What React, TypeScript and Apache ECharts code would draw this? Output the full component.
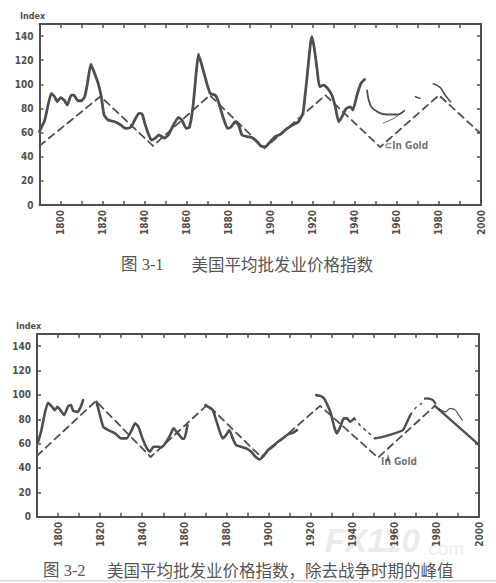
import React, { useEffect, useRef } from 'react';
import * as echarts from 'echarts';

// ---------- axes ----------
const X_MIN = 1790;
const X_MAX = 2000;
const xLabelYears = [1800, 1820, 1840, 1860, 1880, 1900, 1920, 1940, 1960, 1980, 2000];
const yLabelValues = [0, 20, 40, 60, 80, 100, 120, 140];

// ---------- 图 3-1 ----------
const c1Years = [1790, 1792.5, 1795.6, 1797.2, 1798.5, 1800, 1801.7, 1803.2, 1805.1, 1806.3, 1808.3, 1809.9, 1811.5, 1812.8, 1814.4, 1816, 1817.9, 1819.4, 1820.7, 1822.6, 1825.8, 1828.7, 1830.9, 1833.4, 1835.3, 1837.2, 1838.8, 1840.1, 1841.7, 1843.2, 1844.9, 1846.8, 1849.3, 1851.3, 1853.7, 1856.1, 1857.7, 1859.8, 1861.3, 1863, 1864.5, 1865.6, 1867.2, 1869.6, 1871.2, 1873.6, 1875.1, 1877.5, 1879.4, 1881, 1883.1, 1884.7, 1886.3, 1888.7, 1891, 1893.4, 1895.3, 1897.4, 1899.8, 1902.1, 1904.5, 1907.5, 1910.9, 1913.2, 1915.3, 1917.2, 1918.8, 1919.6, 1920.7, 1922, 1923.2, 1925.1, 1927, 1929.1, 1930.7, 1932.3, 1933.9, 1935.9, 1937.9, 1939.1, 1941, 1942.9, 1944.6];
const c1Values = [61, 70.4, 92.5, 89.7, 85.6, 89, 87, 82.8, 91, 91, 86.4, 86.4, 89.7, 100.8, 116.8, 110, 100.8, 89.7, 74.6, 70.4, 69, 66.3, 63.5, 64.4, 70.4, 76, 75.4, 67.7, 59.4, 53.8, 55.2, 58, 55.5, 58, 66.3, 72.7, 70.4, 63.5, 64.4, 81.4, 109, 125, 116, 100.8, 92.5, 91, 85.6, 71.8, 63.5, 64.4, 69, 66.3, 58, 56.6, 56, 52.5, 48.9, 48.3, 52.5, 56.6, 58.5, 63, 66.8, 69, 76, 105, 132.6, 139.5, 130, 113, 98, 99.4, 96.7, 91, 81.4, 69, 73.2, 80, 81.4, 78.7, 91, 100.8, 104];
const c1ArcYears = [1945.8, 1946.6, 1948, 1951, 1955, 1960, 1963.5];
const c1ArcValues = [95, 87, 81, 77, 75, 75, 78];
const c1GoldYears = [1953.5, 1957, 1960, 1964];
const c1GoldValues = [68, 70.5, 73.5, 79];
const c1DashYears = [1968.8, 1971];
const c1DashValues = [89.7, 88.4];
const c1LateYears = [1977.3, 1980.5, 1983, 1985.5];
const c1LateValues = [100.5, 97.5, 91, 85.5];
const c1TrendYears = [1790, 1819, 1844, 1871, 1897, 1926, 1952, 1980, 2000];
const c1TrendValues = [49, 90, 49, 91, 47, 91, 48, 91, 59];

// ---------- 图 3-2 ----------
const c2aYears = [1790.5, 1792.1, 1793.7, 1795.2, 1797.2, 1798.4, 1799.7, 1801.3, 1802.9, 1804.8, 1806.1, 1807.2, 1809.3, 1810.8, 1811.9];
const c2aValues = [61.5, 71, 84.8, 93.5, 90.2, 87.5, 90.2, 87, 83.4, 90.8, 91.6, 87, 86.1, 90.2, 95.7];
const c2bYears = [1818.3, 1819.9, 1821.5, 1823.9, 1827, 1829.9, 1832.6, 1835, 1836.6, 1838.2, 1840.1, 1842.2, 1843.7, 1845.3, 1847.4, 1849.3, 1850.9, 1853.3, 1854.9, 1856.9, 1858.9, 1860, 1861.5];
const c2bValues = [94.3, 83.4, 73.8, 71.1, 68.4, 64.3, 64.3, 71.1, 76.6, 73.8, 64.3, 56.1, 53.3, 57.4, 57.4, 57, 60.2, 67, 72.5, 68.4, 64.3, 64, 75];
const c2cYears = [1870, 1873.5, 1875.1, 1876.6, 1878.2, 1879.8, 1881.4, 1883, 1884.6, 1887, 1889.4, 1891.8, 1893.8, 1895.7, 1897.6, 1899.7, 1902.1, 1904.5, 1906.8, 1909.2, 1911.6, 1913.5];
const c2cValues = [91.6, 87.5, 79.3, 71.1, 64.3, 67, 71.1, 64.3, 58.8, 57.4, 56.1, 53.3, 49.2, 47.1, 49.8, 54.7, 58, 61.5, 64.3, 67.6, 68.9, 71.1];
const c2dYears = [1922.7, 1924.8, 1926.4, 1928, 1929.6, 1931.2, 1932.5, 1934.1, 1935.7, 1937.3, 1938.8, 1940.7];
const c2dValues = [99.8, 99, 97.1, 91.6, 84.8, 73.8, 68.4, 73.8, 80.7, 80.7, 77.9, 80.7];
const c2eYears = [1940.7, 1944, 1946.4, 1950.5];
const c2eValues = [80.7, 74, 70.5, 64.3];
const c2fYears = [1950.5, 1954.3, 1959.9, 1963.9, 1965.5, 1967.5];
const c2fValues = [64.3, 65.6, 68.4, 71.1, 76.6, 84];
const c2gYears = [1967.5, 1970.3, 1972.7, 1974.4];
const c2gValues = [84, 90.2, 93, 97.1];
const c2hYears = [1974.4, 1977.6, 1979.3];
const c2hValues = [97.1, 96.3, 93];
const c2iYears = [1981, 1984, 1986.4, 1988.8, 1990.4, 1992];
const c2iValues = [88.9, 86.1, 88.9, 87.5, 83.4, 79.3];
const c2TrendYears = [1790, 1818, 1844, 1871, 1896.5, 1924.5, 1952, 1979];
const c2TrendValues = [50, 95, 49, 92, 49, 91, 48.5, 91];
const c2TailYears = [1979, 2000];
const c2TailValues = [91, 59];

// annotations (data coordinates)
const c1GoldLabelAt = [1964.5, 49];
const c2GoldLabelAt = [1962, 45];
const c2GoldArrowAt = [1956.8, 51.5];

const INK = '#4f4f4f';
const LABEL_FONT = '"Liberation Sans Narrow", "DejaVu Sans Condensed", "Liberation Sans", sans-serif';
const CJK_FONT = '"Liberation Serif", "Noto Sans CJK SC", serif';

const pairs = (xs: number[], ys: number[]) => xs.map((x, i) => [x, ys[i]]);

function lineSeries(grid: number, xs: number[], ys: number[], o: any = {}) {
  return {
    type: 'line',
    xAxisIndex: grid * 2,
    yAxisIndex: grid * 2,
    data: pairs(xs, ys),
    symbol: 'none',
    smooth: o.smooth ?? 0.15,
    silent: true,
    z: o.z ?? 3,
    lineStyle: {
      color: o.color ?? INK,
      width: o.width ?? 2.6,
      type: o.type ?? 'solid',
      cap: 'round',
      join: 'round',
    },
  };
}

function labelSeries(grid: number, at: number[], text: string, extra: any = {}) {
  return {
    type: 'scatter',
    xAxisIndex: grid * 2,
    yAxisIndex: grid * 2,
    data: [at],
    symbolSize: 0,
    silent: true,
    label: {
      show: true,
      position: 'inside',
      formatter: text,
      color: INK,
      fontSize: 10,
      fontWeight: 'bold',
      fontFamily: '"DejaVu Sans Condensed", "Liberation Sans", sans-serif',
      ...extra,
    },
  };
}

function axesFor(grid: number) {
  const axisLine = { show: true, onZero: false, lineStyle: { color: INK, width: 2 } };
  const axisTick = { show: true, inside: true, length: 4, lineStyle: { color: INK, width: 1.5 } };
  const base = { gridIndex: grid, type: 'value', axisLine, axisTick, splitLine: { show: false } };
  const x = { ...base, min: X_MIN, max: X_MAX, interval: 10 };
  const y = { ...base, min: 0, max: 150, interval: 20 };
  return {
    xAxis: [
      {
        ...x,
        position: 'bottom',
        axisLabel: {
          show: true,
          rotate: 90,
          margin: 5,
          color: INK,
          fontSize: 10,
          fontWeight: 'bold',
          fontFamily: LABEL_FONT,
          formatter: (v: number) => (xLabelYears.includes(v) ? String(v) : ''),
        },
      },
      { ...x, position: 'top', axisLabel: { show: false } },
    ],
    yAxis: [
      {
        ...y,
        position: 'left',
        axisLabel: {
          show: true,
          margin: 6,
          color: INK,
          fontSize: 10,
          fontWeight: 'bold',
          fontFamily: LABEL_FONT,
          formatter: (v: number) => (yLabelValues.includes(v) ? String(v) : ''),
        },
      },
      { ...y, position: 'right', axisLabel: { show: false } },
    ],
  };
}

export default function App() {
  const ref = useRef<HTMLDivElement>(null);

  useEffect(() => {
    document.body.style.margin = '0';
    if (!ref.current) return;
    const chart = echarts.init(ref.current, undefined, { renderer: 'svg' });

    const a0 = axesFor(0);
    const a1 = axesFor(1);
    const dash = [7, 5];

    const option: any = {
      animation: false,
      backgroundColor: '#ffffff',
      grid: [
        { left: 39.5, top: 24, width: 441.5, height: 181, containLabel: false },
        { left: 37, top: 334, width: 442, height: 182.7, containLabel: false },
      ],
      xAxis: [...a0.xAxis, ...a1.xAxis],
      yAxis: [...a0.yAxis, ...a1.yAxis],
      series: [
        // chart 1
        lineSeries(0, c1TrendYears, c1TrendValues, { width: 1.8, type: dash, smooth: 0 }),
        lineSeries(0, c1Years, c1Values, { width: 2.8 }),
        lineSeries(0, c1ArcYears, c1ArcValues, { width: 1.8, smooth: 0.4 }),
        lineSeries(0, c1GoldYears, c1GoldValues, { width: 1, type: 'dotted', smooth: 0.3 }),
        lineSeries(0, c1DashYears, c1DashValues, { width: 1.4 }),
        lineSeries(0, c1LateYears, c1LateValues, { width: 1.6, smooth: 0.4 }),
        labelSeries(0, c1GoldLabelAt, '⊂In Gold'),
        // chart 2
        lineSeries(1, c2TrendYears, c2TrendValues, { width: 1.8, type: dash, smooth: 0 }),
        lineSeries(1, c2TailYears, c2TailValues, { width: 2.4, smooth: 0 }),
        lineSeries(1, c2aYears, c2aValues, { width: 2.6 }),
        lineSeries(1, c2bYears, c2bValues, { width: 2.6 }),
        lineSeries(1, c2cYears, c2cValues, { width: 2.6 }),
        lineSeries(1, c2dYears, c2dValues, { width: 2.6 }),
        lineSeries(1, c2eYears, c2eValues, { width: 1.6, type: [2, 5] }),
        lineSeries(1, c2fYears, c2fValues, { width: 2.4 }),
        lineSeries(1, c2gYears, c2gValues, { width: 1.4, type: [2, 5] }),
        lineSeries(1, c2hYears, c2hValues, { width: 2.2, smooth: 0.4 }),
        lineSeries(1, c2iYears, c2iValues, { width: 1.2, smooth: 0.3 }),
        labelSeries(1, c2GoldLabelAt, 'In Gold'),
        {
          type: 'scatter',
          xAxisIndex: 2,
          yAxisIndex: 2,
          data: [c2GoldArrowAt],
          symbol: 'arrow',
          symbolSize: [4, 9],
          silent: true,
          itemStyle: { color: INK },
        },
      ],
      graphic: [
        {
          type: 'text', x: 360, y: 540, z: -10,
          style: { text: 'FX110', fill: '#ebebeb', fontSize: 33, fontWeight: 'bold', fontStyle: 'italic', fontFamily: '"Liberation Sans", sans-serif', textAlign: 'left', textVerticalAlign: 'middle' },
          left: 325, top: 524,
        },
        {
          type: 'text', left: 423, top: 539, z: -10,
          style: { text: '.com', fill: '#ededed', fontSize: 19, fontFamily: '"Liberation Sans", sans-serif' },
        },
        { type: 'rect', left: 0, top: 580, shape: { width: 496, height: 1.5 }, style: { fill: '#dadada' } },
        {
          type: 'text', left: 20, top: 11,
          style: { text: 'Index', fill: INK, fontSize: 9, fontWeight: 'bold', fontFamily: '"DejaVu Sans Condensed", sans-serif' },
        },
        {
          type: 'text', left: 16, top: 321,
          style: { text: 'Index', fill: INK, fontSize: 9, fontWeight: 'bold', fontFamily: '"DejaVu Sans Condensed", sans-serif' },
        },
        {
          type: 'text', left: 121, top: 256,
          style: { text: '图 3-1', fill: '#555', fontSize: 16.5, fontFamily: CJK_FONT },
        },
        {
          type: 'text', left: 191.5, top: 256,
          style: { text: '美国平均批发业价格指数', fill: '#555', fontSize: 16.5, fontFamily: '"Noto Sans CJK SC", sans-serif' },
        },
        {
          type: 'text', left: 43, top: 562,
          style: { text: '图 3-2', fill: '#555', fontSize: 16.5, fontFamily: CJK_FONT },
        },
        {
          type: 'text', left: 107, top: 562,
          style: { text: '美国平均批发业价格指数，除去战争时期的峰值', fill: '#555', fontSize: 16.5, fontFamily: '"Noto Sans CJK SC", sans-serif' },
        },
      ],
    };

    chart.setOption(option);
    return () => chart.dispose();
  }, []);

  return <div ref={ref} style={{ width: 496, height: 583 }} />;
}
